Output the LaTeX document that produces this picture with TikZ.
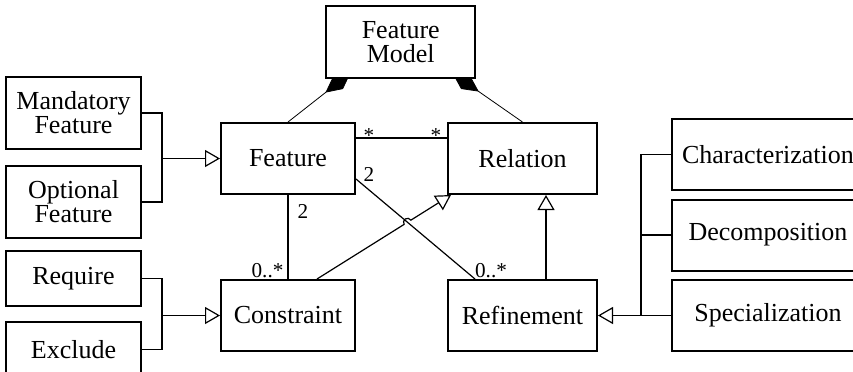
\documentclass[tikz,border=0pt]{standalone}
\usepackage{fontspec}
\setmainfont{Liberation Serif}
\usetikzlibrary{positioning,arrows.meta,calc,intersections,backgrounds}

\tikzset{
  cls/.style={draw, line width=1pt, fill=white, minimum width=67pt,
    minimum height=35.5pt, align=center, inner sep=1pt,
    font=\fontsize{13pt}{12pt}\selectfont},
  widecls/.style={cls, minimum width=74.5pt},
  kind/.style={cls, minimum width=67.5pt},
  refcls/.style={cls, minimum width=96pt},
  mult/.style={inner sep=0pt, font=\fontsize{10.6pt}{12pt}\selectfont},
  gen/.style={-{Triangle[open, fill=white, length=7.5pt, width=8.5pt]}},
  comp/.style={-{Diamond[length=16pt, width=8pt]}, shorten >=-5pt}
}

\begin{document}
\begin{tikzpicture}[line width=0.6pt]
  \useasboundingbox (0,0) rectangle (426.5pt,-185.5pt);
  \clip (0,0) rectangle (426.5pt,-185.5pt);

  % Define nodes
  \node[cls] (feature) at (144pt,-79.25pt) {Feature};
  \node[widecls, right=45.5pt of feature] (relation) {Relation};
  \node[cls, below=42pt of feature] (constraint) {Constraint};
  \node[widecls, below=42pt of relation] (refinement) {Refinement};
  \coordinate (top) at ($(feature.north)!0.5!(relation.north)$);
  \node[widecls, minimum height=36pt, above=21.5pt of top, xshift=-2.25pt] (model) {Feature\\Model};

  \node[kind, minimum height=36pt, left=39pt of feature, yshift=22.75pt] (mandatory) {Mandatory\\Feature};
  \node[kind, minimum height=36pt, below=7.5pt of mandatory] (optional) {Optional\\Feature};
  \node[kind, minimum height=27.5pt, left=39pt of constraint, yshift=18.5pt] (require) {Require};
  \node[kind, minimum height=27.5pt, below=7pt of require] (exclude) {Exclude};

  \node[refcls, right=36.5pt of refinement] (special) {Specialization};
  \node[refcls, above=3.75pt of special] (decomp) {Decomposition};
  \node[refcls, above=3.75pt of decomp] (charact) {Characterization};

  % Composition
  \begin{scope}[on background layer]
    \draw[comp] (feature.north) -- ([xshift=-29pt]model.south);
    \draw[comp] (relation.north) -- ([xshift=30pt]model.south);
  \end{scope}

  % Generalizations
  \draw (mandatory.east) -- ++(10pt,0) coordinate (mfork) |- (optional.east);
  \draw[gen] (mfork |- feature.west) -- (feature.west);
  \draw (require.east) -- ++(10pt,0) coordinate (rfork) |- (exclude.east);
  \draw[gen] (rfork |- constraint.west) -- (constraint.west);
  \coordinate[left=15pt of special.west] (sfork);
  \draw (charact.west) -- (charact.west -| sfork) -- (sfork) -- (special.west);
  \draw (decomp.west) -- (decomp.west -| sfork);
  \draw[gen] (sfork) -- (refinement.east);
  \draw[gen] ([xshift=11.75pt]refinement.north) -- ([xshift=11.75pt]relation.south);

  % Associations
  \draw ([yshift=10.25pt]feature.east) -- ([yshift=10.25pt]feature.east -| relation.west)
    node[mult, pos=0, xshift=6.5pt, yshift=1pt] {*}
    node[mult, pos=1, xshift=-5.5pt, yshift=1pt] {*};
  \draw (feature.south) -- (constraint.north)
    node[mult, pos=0, xshift=7.5pt, yshift=-8pt] {2}
    node[mult, pos=1, xshift=-10.25pt, yshift=4pt] {0..*};
  \draw[name path=fline] ([yshift=8pt]feature.south east) -- ([xshift=-23.75pt]refinement.north)
    node[mult, pos=0, xshift=6.5pt, yshift=2.25pt] {2}
    node[mult, pos=1, xshift=8pt, yshift=4pt] {0..*};

  % Constraint is a Relation, hopping over the line above
  \coordinate (cstart) at ([xshift=14.5pt]constraint.north);
  \coordinate (cend) at ([xshift=2pt]relation.south west);
  \path[name path=gline] (cstart) -- (cend);
  \path[name intersections={of=gline and fline, by=hop}];
  \draw[gen] let \p1=($(cend)-(cstart)$), \n1={atan2(\y1,\x1)} in
    (cstart) -- ($(hop)!2pt!(cstart)$) arc[start angle=\n1+180, end angle=\n1, radius=2pt] -- (cend);
\end{tikzpicture}
\end{document}
